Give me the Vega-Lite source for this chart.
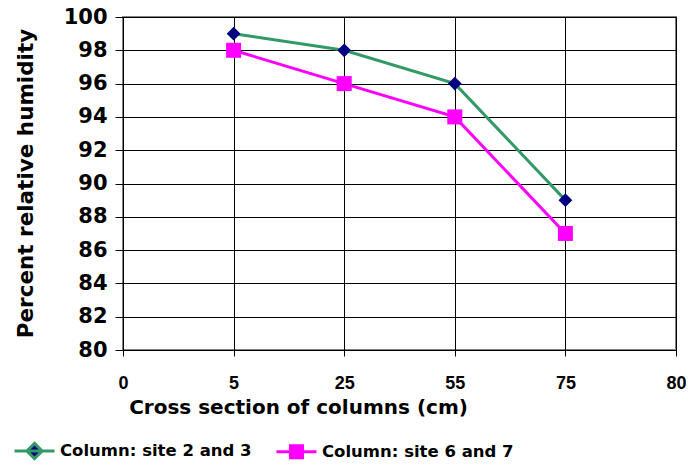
{
  "$schema": "https://vega.github.io/schema/vega-lite/v6.json",
  "width": 553,
  "height": 333,
  "autosize": {"type": "none"},
  "padding": {"left": 123, "top": 17, "right": 15, "bottom": 115},
  "background": "white",
  "config": {
    "font": "DejaVu Sans",
    "view": {"stroke": "#808080", "strokeWidth": 2}
  },
  "data": {
    "values": [
      {"x": 5, "y": 99, "series": "Column: site 2 and 3"},
      {"x": 25, "y": 98, "series": "Column: site 2 and 3"},
      {"x": 55, "y": 96, "series": "Column: site 2 and 3"},
      {"x": 75, "y": 89, "series": "Column: site 2 and 3"},
      {"x": 5, "y": 98, "series": "Column: site 6 and 7"},
      {"x": 25, "y": 96, "series": "Column: site 6 and 7"},
      {"x": 55, "y": 94, "series": "Column: site 6 and 7"},
      {"x": 75, "y": 87, "series": "Column: site 6 and 7"}
    ]
  },
  "encoding": {
    "x": {
      "field": "x",
      "type": "ordinal",
      "scale": {"type": "point", "domain": [0, 5, 25, 55, 75, 80], "padding": 0},
      "axis": {
        "title": "Cross section of columns (cm)",
        "labelAngle": 0,
        "grid": true,
        "gridColor": "black",
        "gridOpacity": 1,
        "gridWidth": 1,
        "domainColor": "black",
        "domainWidth": 1,
        "tickColor": "black",
        "tickSize": 6,
        "labelPadding": 18,
        "labelFont": "Liberation Sans",
        "labelFontSize": 18,
        "labelFontWeight": "bold",
        "labelColor": "black",
        "titleFont": "DejaVu Sans",
        "titleFontSize": 20,
        "titleFontWeight": "bold",
        "titleColor": "black",
        "titleAnchor": "middle",
        "titleAlign": "center",
        "titleBaseline": "middle",
        "titleX": 175,
        "titleY": 57
      }
    },
    "y": {
      "field": "y",
      "type": "quantitative",
      "scale": {"domain": [80, 100], "nice": false, "zero": false},
      "axis": {
        "title": "Percent relative humidity",
        "values": [80, 82, 84, 86, 88, 90, 92, 94, 96, 98, 100],
        "grid": true,
        "gridColor": "black",
        "gridOpacity": 1,
        "gridWidth": 1,
        "domainColor": "black",
        "tickColor": "black",
        "tickSize": 8,
        "labelPadding": 8,
        "labelFont": "DejaVu Sans",
        "labelFontSize": 21,
        "labelFontWeight": "bold",
        "labelColor": "black",
        "titleFont": "DejaVu Sans",
        "titleFontSize": 21.5,
        "titleFontWeight": "bold",
        "titleColor": "black",
        "titleAngle": -90,
        "titleAlign": "center",
        "titleBaseline": "middle",
        "titleX": -97,
        "titleY": 166
      }
    }
  },
  "layer": [
    {
      "mark": {"type": "line", "strokeWidth": 3},
      "encoding": {
        "color": {
          "field": "series",
          "type": "nominal",
          "scale": {"domain": ["Column: site 2 and 3", "Column: site 6 and 7"], "range": ["#339966", "#FF00FF"]},
          "legend": {
            "title": null,
            "orient": "none",
            "direction": "horizontal",
            "legendX": -110,
            "legendY": 412,
            "symbolType": "M-1,0H1M0,-0.33L0.33,0L0,0.33L-0.33,0Z",
            "symbolSize": 1600,
            "symbolStrokeWidth": 3,
            "labelFont": "DejaVu Sans",
            "labelFontSize": 16.5,
            "labelFontWeight": "bold",
            "labelColor": "black",
            "labelOffset": 4,
            "columnPadding": 18,
            "labelLimit": 400,
            "encode": {
              "symbols": {
                "update": {
                  "shape": {"signal": "datum.value === 'Column: site 2 and 3' ? 'M-1,0H1M0,-0.38L0.38,0L0,0.38L-0.38,0Z' : 'M-1,0H1M-0.3,-0.3H0.3V0.3H-0.3Z'"},
                  "fill": {"signal": "datum.value === 'Column: site 2 and 3' ? '#000080' : '#FF00FF'"},
                  "fillOpacity": {"value": 1}
                }
              }
            }
          }
        }
      }
    },
    {
      "mark": {"type": "point", "filled": true, "opacity": 1},
      "encoding": {
        "shape": {
          "condition": {"test": "datum.series === 'Column: site 2 and 3'", "value": "diamond"},
          "value": "square"
        },
        "fill": {
          "condition": {"test": "datum.series === 'Column: site 2 and 3'", "value": "#000080"},
          "value": "#FF00FF"
        },
        "size": {
          "condition": {"test": "datum.series === 'Column: site 2 and 3'", "value": 190},
          "value": 225
        }
      }
    }
  ]
}
